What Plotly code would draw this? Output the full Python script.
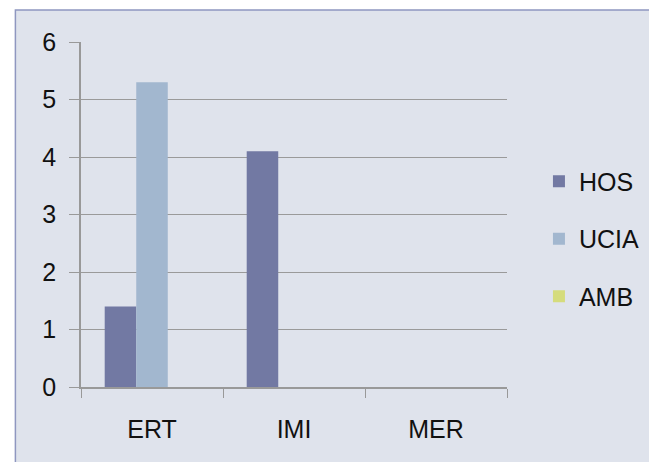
import plotly.graph_objects as go

categories = ["ERT", "IMI", "MER"]
hos = [1.4, 4.1, 0]
ucia = [5.3, 0, 0]
amb = [0, 0, 0]

series = [
    ("HOS", hos, "#7279a3"),
    ("UCIA", ucia, "#a2b7cf"),
    ("AMB", amb, "#d5dc7c"),
]

fig = go.Figure()
for i, (name, vals, color) in enumerate(series):
    fig.add_trace(go.Bar(
        x=categories, y=vals, name=name,
        marker=dict(color=color, line=dict(width=0)),
        legendgroup=f"g{i}",
    ))

# chart frame like the Excel chart area
fig.add_shape(
    type="rect", xref="paper", yref="paper",
    x0=-0.154, x1=1.6, y0=-0.5, y1=1.093,
    fillcolor="#dfe3ec", line=dict(color="#8f97c0", width=1.5),
    layer="below",
)

# page body adds an 8px offset, so the figure is 8px smaller
fig.update_layout(
    width=649, height=454,
    margin=dict(l=73, r=144, t=34, b=75),
    paper_bgcolor="white", plot_bgcolor="rgba(0,0,0,0)",
    barmode="group", bargap=0.334, bargroupgap=0,
    font=dict(family="Liberation Sans, Arial, sans-serif", size=25, color="#111"),
    showlegend=True,
    legend=dict(
        x=1.075, y=0.429, xanchor="left", yanchor="middle",
        bgcolor="rgba(0,0,0,0)", tracegroupgap=22,
        font=dict(size=25), itemwidth=30,
    ),
    xaxis=dict(
        showline=True, linecolor="#999999", linewidth=1.5,
        ticks="outside", tickson="boundaries", ticklen=9, tickcolor="#999999",
        showgrid=False, ticklabelstandoff=19,
    ),
    yaxis=dict(
        range=[0, 6], dtick=1, showline=True, linecolor="#999999", linewidth=1.5,
        ticks="outside", ticklen=10, tickcolor="#999999",
        gridcolor="#9a9a9a", gridwidth=1.2, zeroline=False,
        ticklabelstandoff=8,
    ),
)

fig.write_html("out.html")
